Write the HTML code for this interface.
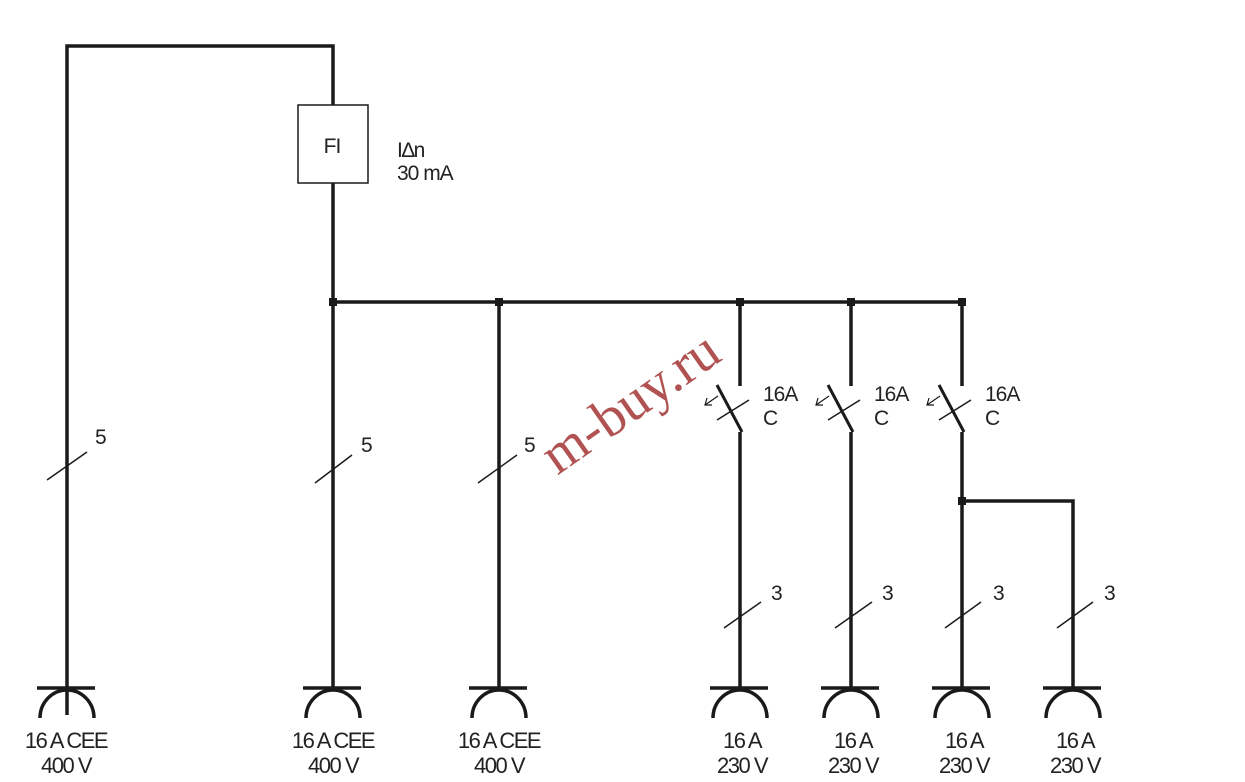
<!DOCTYPE html>
<html><head><meta charset="utf-8"><style>
html,body{margin:0;padding:0;background:#fff;}
svg{display:block;}
text{font-family:"Liberation Sans",sans-serif;fill:#222;}
</style></head><body>
<svg width="1245" height="782" viewBox="0 0 1245 782" xmlns="http://www.w3.org/2000/svg">
<defs>
<g id="sk" stroke="#1a1a1a" stroke-width="3.5" fill="none"><line x1="-30" y1="688" x2="28" y2="688"/><path d="M -27 718 A 27 28 0 0 1 27 718"/></g>
<g id="sw1" stroke="#1a1a1a" fill="none">
<line x1="717" y1="385" x2="742" y2="432" stroke-width="3"/>
<line x1="717" y1="420" x2="749" y2="400" stroke-width="1.5"/>
<line x1="705" y1="405" x2="718" y2="396" stroke-width="1.2"/>
<polyline points="707,398 705,405 712,405" stroke-width="1.2"/>
</g>
</defs>
<g stroke="#1a1a1a" stroke-width="3.5" fill="none">
<polyline points="67,715 67,46 333,46 333,105"/>
<rect x="298" y="105" width="70" height="78" stroke-width="1.5"/>
<line x1="333" y1="183" x2="333" y2="688"/>
<line x1="333" y1="302" x2="962" y2="302"/>
<line x1="499" y1="302" x2="499" y2="688"/>
<line x1="740" y1="302" x2="740" y2="386"/>
<line x1="740" y1="432" x2="740" y2="688"/>
<line x1="851" y1="302" x2="851" y2="386"/>
<line x1="851" y1="432" x2="851" y2="688"/>
<line x1="962" y1="302" x2="962" y2="386"/>
<line x1="962" y1="432" x2="962" y2="688"/>
<polyline points="962,501 1073,501 1073,688"/>
</g>
<g fill="#1a1a1a">
<rect x="329" y="298" width="8" height="8"/><rect x="495" y="298" width="8" height="8"/>
<rect x="736" y="298" width="8" height="8"/><rect x="847" y="298" width="8" height="8"/>
<rect x="958" y="298" width="8" height="8"/><rect x="958" y="497" width="8" height="8"/>
</g>
<use href="#sw1"/>
<use href="#sw1" x="111"/>
<use href="#sw1" x="222"/>
<g stroke="#1a1a1a" stroke-width="1.5">
<line x1="47" y1="480" x2="87" y2="452"/>
<line x1="315" y1="483" x2="352" y2="455"/>
<line x1="478" y1="483" x2="517" y2="455"/>
<line x1="724" y1="628" x2="761" y2="602"/>
<line x1="835" y1="628" x2="872" y2="602"/>
<line x1="945" y1="628" x2="981" y2="602"/>
<line x1="1057" y1="628" x2="1093" y2="602"/>
</g>
<use href="#sk" x="67"/><use href="#sk" x="333"/><use href="#sk" x="499"/>
<use href="#sk" x="740"/><use href="#sk" x="851"/><use href="#sk" x="962"/><use href="#sk" x="1073"/>
<g font-size="21" letter-spacing="-1">
<text x="332" y="153" text-anchor="middle">FI</text>
<text x="397" y="157">I∆n</text>
<text x="397" y="180">30 mA</text>
<text x="95" y="444">5</text><text x="361" y="452">5</text><text x="524" y="452">5</text>
<text x="771" y="600">3</text><text x="882" y="600">3</text><text x="993" y="600">3</text><text x="1104" y="600">3</text>
<text x="763" y="401">16A</text><text x="763" y="425">C</text>
<text x="874" y="401">16A</text><text x="874" y="425">C</text>
<text x="985" y="401">16A</text><text x="985" y="425">C</text>
</g>
<g font-size="22" letter-spacing="-1.5" text-anchor="middle">
<text x="66" y="748">16 A CEE</text><text x="66" y="773">400 V</text>
<text x="333" y="748">16 A CEE</text><text x="333" y="773">400 V</text>
<text x="499" y="748">16 A CEE</text><text x="499" y="773">400 V</text>
<text x="742" y="748">16 A</text><text x="742" y="773">230 V</text>
<text x="853" y="748">16 A</text><text x="853" y="773">230 V</text>
<text x="964" y="748">16 A</text><text x="964" y="773">230 V</text>
<text x="1075" y="748">16 A</text><text x="1075" y="773">230 V</text>
</g>
<text x="632" y="420" transform="rotate(-35 632 405)" text-anchor="middle" font-size="56" style="font-family:'Liberation Serif',serif;fill:#a8403f;opacity:0.9">m-buy.ru</text>
</svg>
</body></html>
